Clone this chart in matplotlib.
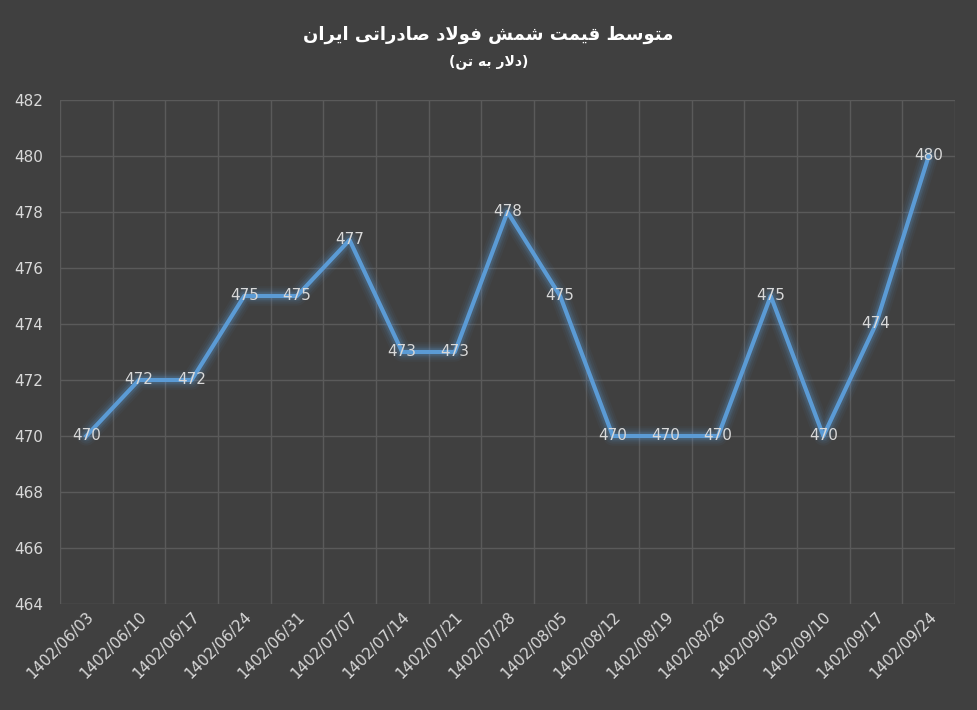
import matplotlib
matplotlib.use("Agg")
import matplotlib.pyplot as plt

dates = ["1402/06/03","1402/06/10","1402/06/17","1402/06/24","1402/06/31","1402/07/07",
         "1402/07/14","1402/07/21","1402/07/28","1402/08/05","1402/08/12","1402/08/19",
         "1402/08/26","1402/09/03","1402/09/10","1402/09/17","1402/09/24"]
prices = [470,472,472,475,475,477,473,473,478,475,470,470,470,475,470,474,480]
title = "متوسط قیمت شمش فولاد صادراتی ایران"
subtitle = "(دلار به تن)"

# minimal Arabic/Persian shaping
FORMS = {
 'ا':(0xFE8D,0xFE8E,None,None),'ب':(0xFE8F,0xFE90,0xFE91,0xFE92),'ت':(0xFE95,0xFE96,0xFE97,0xFE98),
 'د':(0xFEA9,0xFEAA,None,None),'ر':(0xFEAD,0xFEAE,None,None),'س':(0xFEB1,0xFEB2,0xFEB3,0xFEB4),
 'ش':(0xFEB5,0xFEB6,0xFEB7,0xFEB8),'ص':(0xFEB9,0xFEBA,0xFEBB,0xFEBC),'ط':(0xFEC1,0xFEC2,0xFEC3,0xFEC4),
 'ف':(0xFED1,0xFED2,0xFED3,0xFED4),'ق':(0xFED5,0xFED6,0xFED7,0xFED8),'ل':(0xFEDD,0xFEDE,0xFEDF,0xFEE0),
 'م':(0xFEE1,0xFEE2,0xFEE3,0xFEE4),'ن':(0xFEE5,0xFEE6,0xFEE7,0xFEE8),'ه':(0xFEE9,0xFEEA,0xFEEB,0xFEEC),
 'و':(0xFEED,0xFEEE,None,None),'ی':(0xFEEF,0xFEF0,0xFEF3,0xFEF4),
}
def shape(s):
    chars = list(s)
    out = []
    i = 0
    def joins_next(c): return c in FORMS and FORMS[c][2] is not None
    while i < len(chars):
        c = chars[i]
        if c not in FORMS:
            out.append(c); i += 1; continue
        prev = chars[i-1] if i > 0 else None
        jp = prev is not None and joins_next(prev)
        if c == 'ل' and i+1 < len(chars) and chars[i+1] == 'ا':
            out.append(chr(0xFEFC if jp else 0xFEFB)); i += 2; continue
        nxt = chars[i+1] if i+1 < len(chars) else None
        jn = FORMS[c][2] is not None and nxt in FORMS
        f = FORMS[c]
        if jp and jn: g = f[3]
        elif jp: g = f[1]
        elif jn: g = f[2]
        else: g = f[0]
        out.append(chr(g)); i += 1
    r = ''.join(out)[::-1]
    return r.translate(str.maketrans("()", ")("))

bg = "#404040"
fig = plt.figure(figsize=(9.77, 7.10), dpi=100, facecolor=bg)
ax = fig.add_axes([60/977, 1-604/710, 895/977, 504/710], facecolor=bg)
x = list(range(len(dates)))
ax.set_xlim(-0.5, len(dates)-0.5)
ax.set_ylim(464, 482)
ax.set_yticks(range(464, 483, 2))
ax.set_xticks([i+0.5 for i in x[:-1]] + [len(dates)-0.5], minor=True)
ax.set_xticks(x)
ax.set_xticklabels(dates, rotation=45, ha="right", rotation_mode="anchor")
ax.grid(True, which="major", axis="y", color="#5a5a5a", lw=1)
ax.grid(True, which="minor", axis="x", color="#5a5a5a", lw=1)
ax.axvline(-0.5, color="#5a5a5a", lw=1)
for s in ax.spines.values(): s.set_visible(False)
ax.tick_params(which="both", length=0, colors="#d9d9d9", labelsize=11)
ax.tick_params(axis="y", pad=12)
for lw, a in [(14,0.05),(11,0.07),(8,0.1),(6,0.15)]:
    ax.plot(x, prices, color="#5B9BD5", lw=lw, alpha=a, solid_joinstyle="round", solid_capstyle="round")
ax.plot(x, prices, color="#5B9BD5", lw=3, solid_joinstyle="round")
for xi, yi in zip(x, prices):
    ax.text(xi, yi, str(yi), color="#d9d9d9", fontsize=11, ha="center", va="center")
fig.text(0.5, 1-35/710, shape(title), color="white", fontsize=13, fontweight="bold", ha="center", va="center", family="DejaVu Sans")
fig.text(0.5, 1-62/710, shape(subtitle), color="white", fontsize=10, fontweight="bold", ha="center", va="center", family="DejaVu Sans")
fig.savefig("out.png", dpi=100, facecolor=bg)
